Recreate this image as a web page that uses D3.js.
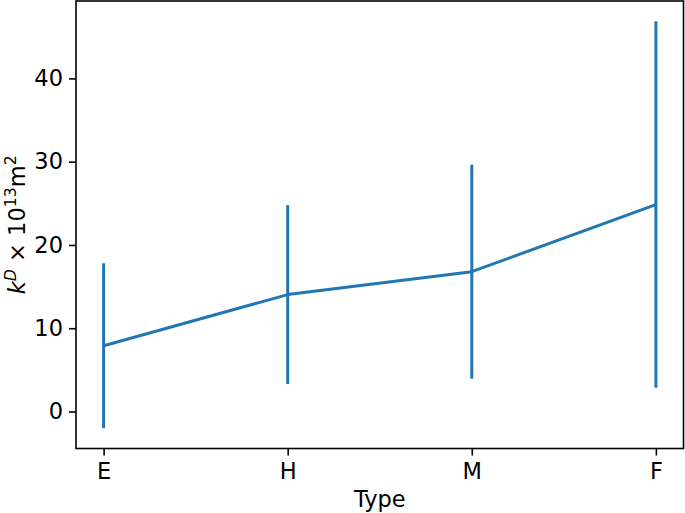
<!DOCTYPE html>
<html><head><meta charset="utf-8">
<script src="https://cdn.jsdelivr.net/npm/d3@7"></script>
<style>body{margin:0;background:#fff}svg{display:block}text{font-family:"DejaVu Sans",sans-serif}</style>
</head><body><svg id="c" width="685" height="513"></svg>
<script>
const categories = ["E","H","M","F"];
const means = [7.9, 14.04, 16.79, 24.85];
const errors = [9.9, 10.74, 12.85, 22.0];
const yTicks = [0,10,20,30,40];

const W=685,H=513, L=76, R=683.5, T=1, B=448.5;
const FS=22.5, SUP=15.75;
const svg=d3.select("#c");
const lo=d3.min(means.map((m,i)=>m-errors[i])), hi=d3.max(means.map((m,i)=>m+errors[i]));
const pad=(hi-lo)*0.05;
const x=d3.scaleLinear().domain([-0.15,categories.length-1+0.15]).range([L,R]);
const y=d3.scaleLinear().domain([lo-pad,hi+pad]).range([B,T]);
const color="#1f77b4";

const g=svg.append("g");
g.selectAll("line.err").data(categories).join("line").attr("class","err")
 .attr("x1",(d,i)=>x(i)).attr("x2",(d,i)=>x(i))
 .attr("y1",(d,i)=>y(means[i]-errors[i])).attr("y2",(d,i)=>y(means[i]+errors[i]))
 .attr("stroke",color).attr("stroke-width",3);
g.append("path").datum(means).attr("fill","none").attr("stroke",color).attr("stroke-width",3)
 .attr("stroke-linejoin","round")
 .attr("d",d3.line().x((d,i)=>x(i)).y(d=>y(d)));

const xa=svg.append("g").attr("transform",`translate(0,${B})`)
 .call(d3.axisBottom(x).tickValues(d3.range(categories.length)).tickFormat(i=>categories[i]).tickSize(7).tickPadding(7.5));
const ya=svg.append("g").attr("transform",`translate(${L},0)`)
 .call(d3.axisLeft(y).tickValues(yTicks).tickSize(7).tickPadding(6));
[xa,ya].forEach(a=>{a.attr("font-size",FS).attr("font-family","DejaVu Sans");a.select(".domain").remove();a.selectAll(".tick line").attr("stroke","#000").attr("stroke-width",1.6);
 a.selectAll("text").attr("font-size",FS).attr("fill","#000");});
svg.append("rect").attr("x",L).attr("y",T).attr("width",R-L).attr("height",B-T)
 .attr("fill","none").attr("stroke","#000").attr("stroke-width",1.6);

svg.append("text").attr("x",(L+R)/2).attr("y",507).attr("text-anchor","middle").attr("font-size",FS).text("Type");
const yl=svg.append("text").attr("transform",`translate(25,${(T+B)/2}) rotate(-90)`).attr("text-anchor","middle").attr("font-size",FS);
yl.append("tspan").attr("font-style","italic").text("k");
yl.append("tspan").attr("font-style","italic").attr("font-size",SUP).attr("dy",-9).text("D");
yl.append("tspan").attr("dy",9).text(" × 10");
yl.append("tspan").attr("font-size",SUP).attr("dy",-9).text("13");
yl.append("tspan").attr("dy",9).text("m");
yl.append("tspan").attr("font-size",SUP).attr("dy",-9).text("2");
</script></body></html>
